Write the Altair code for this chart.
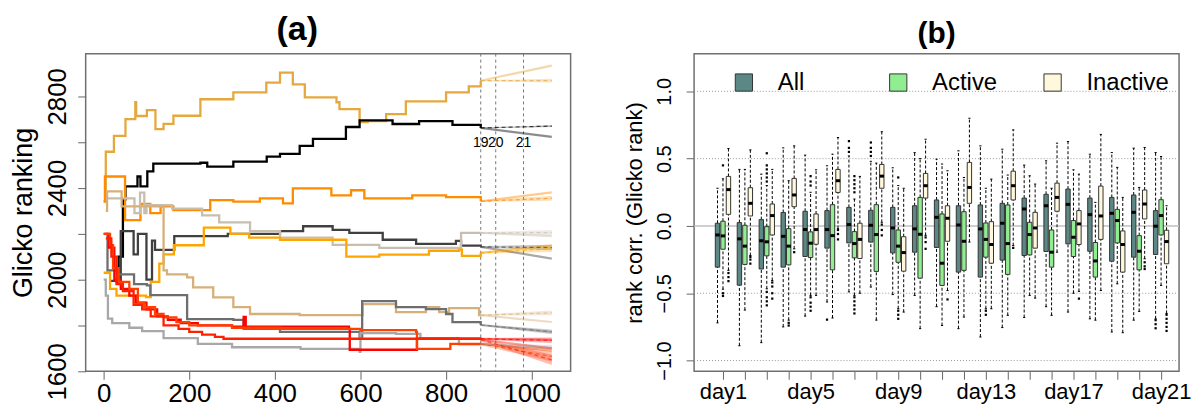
import altair as alt
import pandas as pd

FONT = "Liberation Sans"

# ---------------- panel (a): Glicko ranking trajectories ----------------
series_names = ["gold", "black", "darkorange", "grey25", "tangrey", "orange",
                "burlywood", "dimgrey", "darkgrey", "redX", "redY", "redZ"]
series_colors = ["#E5A83E", "#000000", "#FF8C00", "#404040", "#C8BEB0", "#FFA500",
                 "#D6B07A", "#6E6E6E", "#A8A8A8", "#FF0000", "#FF4000", "#FF2000"]

gold_t = [0, 5, 24, 51, 74, 76, 101, 121, 140, 163, 226, 303, 380, 412, 440, 442, 470, 544, 551, 598, 617, 660, 706, 753, 800, 853, 881]
gold_v = [2342, 2558, 2627, 2700, 2774, 2714, 2740, 2657, 2680, 2715, 2787, 2817, 2860, 2903, 2903, 2852, 2795, 2774, 2744, 2687, 2692, 2722, 2778, 2778, 2817, 2843, 2868]
black_t = [28, 35, 45, 51, 79, 86, 102, 116, 226, 242, 303, 381, 412, 458, 489, 566, 598, 644, 675, 737, 815, 861, 881]
black_v = [1990, 2100, 2350, 2407, 2450, 2407, 2472, 2506, 2510, 2493, 2515, 2537, 2549, 2584, 2614, 2666, 2695, 2695, 2679, 2692, 2675, 2675, 2662]
dkor_t = [0, 3, 48, 50, 85, 86, 109, 133, 163, 249, 303, 365, 419, 442, 509, 532, 578, 609, 721, 800, 881]
dkor_v = [2340, 2450, 2450, 2260, 2260, 2330, 2290, 2320, 2303, 2347, 2340, 2355, 2333, 2398, 2398, 2368, 2390, 2355, 2368, 2360, 2342]
g25_t = [15, 40, 70, 80, 100, 113, 120, 165, 290, 412, 466, 535, 574, 652, 730, 823, 835, 881]
g25_v = [1995, 2212, 2110, 2200, 2000, 2170, 2130, 2190, 2200, 2212, 2233, 2217, 2204, 2174, 2156, 2169, 2148, 2143]
tang_t = [10, 70, 72, 85, 95, 100, 160, 230, 270, 342, 412, 535, 644, 823, 835, 881]
tang_v = [2355, 2355, 2290, 2380, 2290, 2325, 2310, 2280, 2250, 2212, 2183, 2152, 2139, 2139, 2204, 2204]
oran_t = [0, 15, 30, 99, 110, 130, 140, 164, 234, 296, 340, 412, 567, 644, 760, 830, 837, 881]
oran_v = [2030, 1960, 1930, 1924, 1990, 2070, 2110, 2150, 2227, 2200, 2183, 2174, 2100, 2109, 2126, 2131, 2104, 2117]
burl_t = [5, 8, 40, 42, 137, 140, 148, 195, 209, 256, 303, 342, 458, 598, 605, 683, 753, 784, 807, 877, 881]
burl_v = [2300, 2385, 2385, 2320, 2320, 2040, 2023, 2010, 1966, 1923, 1880, 1850, 1845, 1845, 1893, 1858, 1880, 1858, 1876, 1845, 1845]
dimg_t = [5, 9, 32, 71, 101, 109, 183, 195, 303, 327, 412, 598, 604, 683, 753, 800, 815, 881]
dimg_v = [2200, 2040, 2023, 1980, 1975, 1932, 1932, 1828, 1824, 1785, 1772, 1750, 1906, 1880, 1871, 1850, 1815, 1802]
dkgr_t = [0, 5, 10, 20, 60, 90, 140, 220, 300, 460, 598, 600, 683, 740, 825, 830, 881]
dkgr_v = [2000, 1930, 1830, 1810, 1790, 1775, 1745, 1720, 1705, 1698, 1685, 1767, 1763, 1745, 1745, 1718, 1718]
redx_t = [0, 12, 25, 40, 60, 75, 100, 125, 150, 180, 220, 300, 326, 327, 332, 573, 575, 730, 732, 881]
redx_v = [2200, 2140, 2000, 1960, 1930, 1900, 1870, 1840, 1825, 1810, 1800, 1795, 1795, 1837, 1795, 1785, 1694, 1694, 1742, 1742]
redy_t = [0, 15, 22, 35, 60, 80, 95, 120, 140, 170, 200, 300, 412, 600, 730, 732, 807, 810, 881]
redy_v = [2200, 2150, 2050, 1990, 1960, 1900, 1880, 1850, 1835, 1815, 1800, 1790, 1785, 1780, 1772, 1698, 1698, 1720, 1720]
redz_t = [5, 18, 30, 45, 70, 90, 110, 140, 175, 200, 230, 260, 280, 881]
redz_v = [2180, 2100, 1980, 1950, 1890, 1870, 1840, 1800, 1785, 1772, 1760, 1750, 1742, 1738]

series_t = [gold_t, black_t, dkor_t, g25_t, tang_t, oran_t, burl_t, dimg_t, dkgr_t, redx_t, redy_t, redz_t]
series_v = [gold_v, black_v, dkor_v, g25_v, tang_v, oran_v, burl_v, dimg_v, dkgr_v, redx_v, redy_v, redz_v]

# forecasts beyond the last observed day
proj_end = [2934, 2623, 2381, 2092, 2190, 2150, 1815, 1772, 1700, 1737, 1690, 1700]
dash_end = [2868, 2670, 2355, 2140, 2205, 2135, 1855, 1772, 1705, 1735, 1665, 1650]
band_half = [8, 4, 10, 12, 12, 14, 10, 10, 10, 12, 22, 22]
t_last, t_end = 881, 1047
day_marks = [881, 916, 981]
day_labels = ["19", "20", "21"]

rows, prow, drow, brow = [], [], [], []
for name, ts, vs, pe, de, bh in zip(series_names, series_t, series_v, proj_end, dash_end, band_half):
    for t, v in zip(ts, vs):
        rows.append({"s": name, "t": t, "v": v})
    prow += [{"s": name, "t": t_last, "v": vs[-1]}, {"s": name, "t": t_end, "v": pe}]
    drow += [{"s": name, "t": t_last, "v": vs[-1]}, {"s": name, "t": t_end, "v": de}]
    brow += [{"s": name, "t": t_last, "lo": vs[-1] - bh * 0.3, "hi": vs[-1] + bh * 0.3},
             {"s": name, "t": t_end, "lo": de - bh, "hi": de + bh}]
df_a, df_p, df_d, df_bd = pd.DataFrame(rows), pd.DataFrame(prow), pd.DataFrame(drow), pd.DataFrame(brow)

xa_scale = alt.Scale(domain=[-42, 1091], nice=False, zero=False)
ya_scale = alt.Scale(domain=[1600, 2986], nice=False, zero=False)
xa_axis = alt.Axis(values=[0, 200, 400, 600, 800, 1000], title=None, labelFontSize=26, tickSize=8,
                   tickColor="#666", domain=False, grid=False, labelColor="black", labelPadding=1, format="d")
ya_axis = alt.Axis(values=[1600, 1800, 2000, 2200, 2400, 2600, 2800], title="Glicko ranking",
                   labelExpr="datum.value % 400 == 0 ? datum.label : ''", labelAngle=270,
                   labelAlign="center", labelBaseline="bottom", labelFontSize=26, tickSize=8,
                   tickColor="#666", domain=False, grid=False, labelColor="black", labelPadding=7,
                   titleFontSize=27, titleFontWeight="normal", titleColor="black", titlePadding=7, format="d")
col_a = alt.Color("s:N", scale=alt.Scale(domain=series_names, range=series_colors), legend=None)

XA = alt.X("t:Q", scale=xa_scale, axis=xa_axis)
YA = alt.Y("v:Q", scale=ya_scale, axis=ya_axis)

bands = alt.Chart(df_bd).mark_area(opacity=0.3).encode(
    x=XA, y=alt.Y("lo:Q", scale=ya_scale, axis=ya_axis), y2="hi:Q", color=col_a)
lines = alt.Chart(df_a).mark_line(interpolate="step-after", strokeWidth=2.3).encode(
    x=XA, y=YA, color=col_a, order="t:Q")
proj = alt.Chart(df_p).mark_line(strokeWidth=2.2, opacity=0.45).encode(x=XA, y=YA, color=col_a)
dash = alt.Chart(df_d).mark_line(strokeWidth=1.2, strokeDash=[4, 3], opacity=0.7).encode(x=XA, y=YA, color=col_a)
vdf = pd.DataFrame({"t": day_marks, "lab": day_labels, "v": [2597] * 3})
vlines = alt.Chart(vdf).mark_rule(strokeDash=[3, 3], color="#777", strokeWidth=1).encode(x=XA)
vtext = alt.Chart(vdf).mark_text(fontSize=14, color="black").encode(x=XA, y=YA, text="lab:N")

panel_a = alt.layer(vlines, bands, lines, proj, dash, vtext).properties(
    width=487, height=319,
    title=alt.TitleParams("(a)", fontSize=34, fontWeight="bold", offset=6, dx=-31, font=FONT))

# ---------------- panel (b): rank correlation boxplots ----------------
days = list(range(1, 22))
groups = ["All", "Active", "Inactive"]
group_colors = ["#5B8785", "#90EE90", "#FFF8DC"]
group_offset = [-0.25, 0.0, 0.25]

all_lo = [-0.72, -0.89, -0.867, -0.75, -0.67, -0.565, -0.49, -0.454, -0.51, -0.516, -0.60, -0.763, -0.825, -0.755, -0.68, -0.60, -0.64, -0.69, -0.788, -0.70, -0.69]
all_q1 = [-0.306, -0.44, -0.32, -0.306, -0.227, -0.165, -0.126, -0.12, -0.2, -0.195, -0.16, -0.343, -0.38, -0.254, -0.22, -0.19, -0.133, -0.188, -0.262, -0.232, -0.212]
all_md = [-0.067, -0.096, -0.11, -0.077, -0.027, -0.027, 0.01, 0.005, -0.015, -0.022, 0.064, 0.007, -0.022, 0.02, 0.126, 0.15, 0.16, 0.084, 0.094, 0.101, -0.002]
all_q3 = [0.02, 0.025, 0.047, 0.10, 0.109, 0.114, 0.138, 0.116, 0.138, 0.15, 0.193, 0.15, 0.156, 0.168, 0.207, 0.235, 0.274, 0.207, 0.212, 0.23, 0.114]
all_hi = [0.28, 0.42, 0.385, 0.58, 0.526, 0.447, 0.52, 0.48, 0.432, 0.545, 0.496, 0.558, 0.595, 0.57, 0.452, 0.484, 0.627, 0.533, 0.545, 0.578, 0.545]

act_lo = [-0.47, -0.625, -0.467, -0.70, -0.516, -0.684, -0.516, -0.70, -0.615, -0.763, -0.74, -0.677, -0.615, -0.664, -0.516, -0.664, -0.50, -0.70, -0.43, -0.635, -0.442]
act_q1 = [-0.173, -0.286, -0.222, -0.289, -0.235, -0.326, -0.237, -0.338, -0.27, -0.388, -0.442, -0.33, -0.232, -0.36, -0.215, -0.306, -0.227, -0.38, -0.126, -0.326, -0.067]
act_md = [-0.074, -0.15, -0.118, -0.15, -0.128, -0.072, -0.131, -0.064, -0.15, -0.062, -0.277, -0.114, -0.1, -0.131, -0.064, -0.195, -0.084, -0.26, 0.04, -0.188, 0.077]
act_q3 = [0.035, 0.005, -0.005, -0.02, -0.044, 0.158, -0.042, 0.158, -0.03, 0.212, 0.089, 0.106, 0.022, 0.156, 0.027, -0.03, 0.04, -0.123, 0.123, -0.072, 0.195]
act_hi = [0.35, 0.42, 0.30, 0.336, 0.25, 0.533, 0.20, 0.467, 0.30, 0.50, 0.46, 0.36, 0.28, 0.378, 0.373, 0.28, 0.417, 0.175, 0.435, 0.286, 0.516]

ina_lo = [-0.33, -0.22, -0.405, -0.17, -0.516, -0.02, -0.50, 0.027, -0.64, -0.07, -0.48, -0.12, -0.615, -0.146, -0.536, -0.195, -0.486, -0.48, -0.793, -0.244, -0.65]
ina_q1 = [0.086, 0.074, -0.067, 0.143, -0.136, 0.249, -0.242, 0.28, -0.336, 0.207, -0.114, 0.168, -0.277, 0.193, -0.165, 0.109, -0.138, -0.1, -0.343, 0.052, -0.281]
ina_md = [0.27, 0.168, 0.077, 0.23, -0.027, 0.336, -0.1, 0.37, -0.198, 0.299, 0.057, 0.286, -0.138, 0.299, -0.015, 0.212, 0.015, 0.074, -0.138, 0.163, -0.116]
ina_q3 = [0.368, 0.284, 0.163, 0.353, 0.089, 0.42, 0.02, 0.457, -0.08, 0.39, 0.15, 0.472, 0.032, 0.407, 0.101, 0.318, 0.114, 0.296, -0.037, 0.267, -0.032]
ina_hi = [0.575, 0.565, 0.42, 0.595, 0.417, 0.657, 0.368, 0.70, 0.28, 0.644, 0.41, 0.80, 0.348, 0.714, 0.311, 0.615, 0.385, 0.68, 0.212, 0.583, 0.15]

out_day = [1, 1, 1, 1, 1, 1, 2, 2, 2, 3, 3, 3, 3, 3, 3, 3, 3, 3, 3, 3, 3, 3, 3,
           4, 4, 4, 5, 5, 5, 5, 5, 5, 5, 6, 6, 6, 6,
           7, 7, 7, 7, 7, 7, 7, 7, 7, 7, 7, 7, 7, 8, 8, 8, 8, 8, 8, 8,
           9, 9, 9, 9, 10, 10, 10, 11, 13, 13, 14, 17, 20, 20, 20,
           21, 21, 21, 21, 21, 21, 21, 21]
out_grp = ["Active", "Active", "Active", "Inactive", "Inactive", "Inactive", "Inactive", "Inactive", "Inactive",
           "Active", "Active", "Active", "Active", "Active", "Active", "Active", "Active", "Active", "Active",
           "Inactive", "Inactive", "Inactive", "Inactive",
           "Active", "Active", "Inactive", "Active", "Active", "Active", "Active", "Active", "Active", "Active",
           "All", "Inactive", "Inactive", "Inactive",
           "All", "All", "All", "Active", "Active", "Active", "Active", "Active", "Active", "Active", "Active", "Active", "Active",
           "All", "All", "All", "All", "Inactive", "Inactive", "Inactive",
           "Active", "Active", "Active", "Active", "Inactive", "Inactive", "Inactive", "Inactive", "Active", "Active",
           "Inactive", "Inactive", "Inactive", "Inactive", "Inactive",
           "All", "All", "All", "Inactive", "Inactive", "Inactive", "Inactive", "Inactive"]
out_val = [0.45, -0.50, -0.52, -0.35, -0.38, -0.41, -0.23, -0.25, -0.28,
           0.54, 0.45, 0.42, 0.39, 0.36, 0.33, -0.49, -0.53, -0.56, -0.59, -0.42, -0.45, -0.50, -0.54,
           -0.72, -0.74, -0.195, 0.37, 0.33, 0.30, -0.53, -0.57, -0.60, -0.63,
           -0.696, -0.03, -0.06, -0.10,
           0.55, 0.58, 0.63, 0.25, 0.28, 0.31, 0.34, 0.37, -0.53, -0.56, -0.59, -0.62, -0.65,
           0.52, 0.55, 0.58, 0.62, 0.01, -0.03, -0.07,
           0.36, -0.63, -0.66, -0.69, -0.085, -0.12, -0.17, -0.546, -0.63, -0.66,
           -0.163, -0.54, -0.27, -0.30, -0.32,
           -0.70, -0.73, -0.76, -0.66, -0.69, -0.72, -0.75, -0.78]

stats = {"All": (all_lo, all_q1, all_md, all_q3, all_hi),
         "Active": (act_lo, act_q1, act_md, act_q3, act_hi),
         "Inactive": (ina_lo, ina_q1, ina_md, ina_q3, ina_hi)}
off = dict(zip(groups, group_offset))
hw = 0.1
brows = []
for g in groups:
    lo, q1, md, q3, hi = stats[g]
    for i, d in enumerate(days):
        xc = d + off[g]
        brows.append({"group": g, "xc": xc, "xl": xc - hw, "xr": xc + hw, "sl": xc - 0.05, "sr": xc + 0.05,
                      "lo": lo[i], "q1": q1[i], "md": md[i], "q3": q3[i], "hi": hi[i]})
df_b = pd.DataFrame(brows)
df_o = pd.DataFrame({"xc": [d + off[g] for d, g in zip(out_day, out_grp)], "v": out_val})

xb_scale = alt.Scale(domain=[-0.318, 21.82], nice=False, zero=False)
yb_scale = alt.Scale(domain=[-1.08, 1.28], nice=False, zero=False)
xb_axis = alt.Axis(values=days, title=None, labelExpr="datum.value % 4 == 1 ? 'day' + datum.value : ''",
                   labelFontSize=22, tickSize=8, tickColor="#666", domain=False, grid=False,
                   labelColor="black", labelPadding=2)
yb_axis = alt.Axis(values=[-1, -0.5, 0, 0.5, 1], format=".1f", title="rank corr. (Glicko rank)",
                   labelAngle=270, labelAlign="center", labelBaseline="bottom", labelFontSize=20,
                   tickSize=8, tickColor="#666", domain=False, grid=False, labelColor="black",
                   labelPadding=12, titleFontSize=22, titleFontWeight="normal", titleColor="black", titlePadding=8)


def XB(f):
    return alt.X(f, scale=xb_scale, axis=xb_axis)


def YB(f):
    return alt.Y(f, scale=yb_scale, axis=yb_axis)


grid_vals = [-1.0, -0.5, 0.5, 1.0]
grid = alt.Chart(pd.DataFrame({"y": grid_vals})).mark_rule(strokeDash=[1, 2], color="#999", strokeWidth=1).encode(y=YB("y:Q"))
zero = alt.Chart(pd.DataFrame({"y": [0.0]})).mark_rule(color="#C0C0C0", strokeWidth=1.6).encode(y=YB("y:Q"))
wlo = alt.Chart(df_b).mark_rule(strokeDash=[3, 2], color="black", strokeWidth=1).encode(x=XB("xc:Q"), y=YB("lo:Q"), y2="q1:Q")
whi = alt.Chart(df_b).mark_rule(strokeDash=[3, 2], color="black", strokeWidth=1).encode(x=XB("xc:Q"), y=YB("q3:Q"), y2="hi:Q")
slo = alt.Chart(df_b).mark_rule(color="black", strokeWidth=1).encode(x=XB("sl:Q"), x2="sr:Q", y=YB("lo:Q"))
shi = alt.Chart(df_b).mark_rule(color="black", strokeWidth=1).encode(x=XB("sl:Q"), x2="sr:Q", y=YB("hi:Q"))
boxes = alt.Chart(df_b).mark_rect(stroke="#333", strokeWidth=1).encode(
    x=XB("xl:Q"), x2="xr:Q", y=YB("q1:Q"), y2="q3:Q",
    color=alt.Color("group:N", scale=alt.Scale(domain=groups, range=group_colors),
                    legend=alt.Legend(orient="none", legendX=38, legendY=17, direction="horizontal",
                                      columns=3, gridAlign="all", columnPadding=26, title=None,
                                      symbolType="square", symbolSize=300, symbolStrokeColor="#333",
                                      symbolStrokeWidth=1, symbolOpacity=1, labelFontSize=24,
                                      labelOffset=22, labelColor="black", padding=0, labelFont=FONT)))
meds = alt.Chart(df_b).mark_rule(color="black", strokeWidth=3).encode(x=XB("xl:Q"), x2="xr:Q", y=YB("md:Q"))
outs = alt.Chart(df_o).mark_square(size=5, color="black", opacity=1).encode(x=XB("xc:Q"), y=YB("v:Q"))

panel_b = alt.layer(grid, zero, wlo, whi, slo, shi, boxes, meds, outs).properties(
    width=487, height=319,
    title=alt.TitleParams("(b)", fontSize=30, fontWeight="bold", offset=5, font=FONT))

chart = alt.hconcat(panel_a, panel_b, spacing=124, bounds="flush").resolve_scale(
    color="independent").properties(padding={"left": 1, "top": 3, "right": 0, "bottom": 0}).configure(
    font=FONT).configure_view(stroke="#707070", strokeWidth=1.5).configure_axis(labelFont=FONT, titleFont=FONT)

chart.save("out.html", embed_options={"renderer": "svg", "actions": False})
